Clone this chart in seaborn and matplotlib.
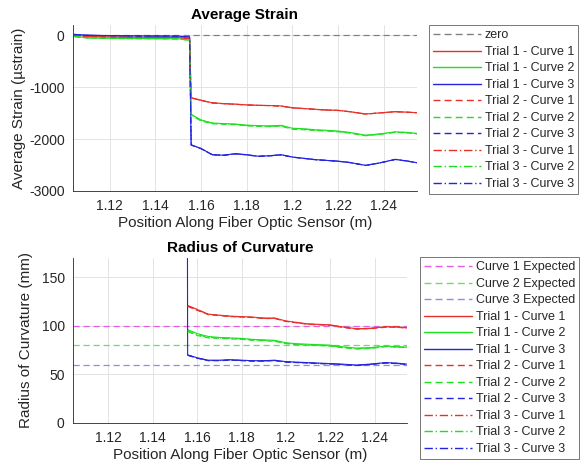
import numpy as np
import pandas as pd
import matplotlib
matplotlib.use("Agg")
import matplotlib.pyplot as plt
import seaborn as sns

sns.set_style("white")
plt.rcParams['font.family'] = ['Liberation Sans', 'DejaVu Sans']
plt.rcParams['axes.unicode_minus'] = False

# ---------------- data ----------------
x_pre = [1.1045, 1.110, 1.120, 1.130, 1.140, 1.150, 1.1550]
x_post = [1.1557, 1.160, 1.165, 1.170, 1.175, 1.180, 1.185, 1.190, 1.195, 1.200,
          1.205, 1.210, 1.215, 1.220, 1.225, 1.232, 1.238, 1.245, 1.250, 1.2545]

# Average strain (microstrain)
s_t1_c1 = [10, -20, -30, -35, -38, -40, -60,
           -1200, -1250, -1300, -1315, -1325, -1340, -1348, -1352, -1360, -1395,
           -1410, -1425, -1438, -1445, -1470, -1515, -1495, -1470, -1480, -1490]
s_t1_c2 = [-20, -45, -55, -60, -62, -65, -90,
           -1520, -1630, -1690, -1700, -1710, -1730, -1740, -1745, -1735, -1790,
           -1800, -1820, -1830, -1845, -1870, -1925, -1900, -1860, -1870, -1890]
s_t1_c3 = [20, 5, -5, -10, -12, -15, -30,
           -2110, -2180, -2300, -2310, -2280, -2300, -2330, -2320, -2300, -2345,
           -2370, -2395, -2410, -2425, -2450, -2505, -2460, -2390, -2420, -2455]
s_t2_c1 = [5, -25, -32, -36, -40, -42, -65,
           -1210, -1255, -1305, -1318, -1330, -1342, -1350, -1355, -1365, -1398,
           -1412, -1428, -1440, -1448, -1472, -1518, -1497, -1472, -1482, -1492]
s_t2_c2 = [-25, -50, -60, -64, -66, -70, -95,
           -1540, -1650, -1705, -1715, -1722, -1745, -1755, -1760, -1750, -1810,
           -1820, -1835, -1845, -1860, -1885, -1935, -1910, -1870, -1880, -1900]
s_t2_c3 = [15, 0, -8, -12, -15, -18, -35,
           -2115, -2185, -2305, -2312, -2285, -2305, -2333, -2324, -2305, -2348,
           -2373, -2398, -2412, -2428, -2452, -2508, -2462, -2393, -2423, -2458]
s_t3_c1 = [8, -22, -31, -34, -39, -41, -62,
           -1205, -1252, -1302, -1316, -1328, -1341, -1349, -1354, -1362, -1397,
           -1411, -1426, -1439, -1446, -1471, -1516, -1496, -1471, -1481, -1491]
s_t3_c2 = [-22, -48, -57, -62, -64, -68, -92,
           -1530, -1640, -1695, -1705, -1715, -1738, -1748, -1752, -1742, -1798,
           -1808, -1828, -1838, -1852, -1878, -1930, -1905, -1865, -1875, -1895]
s_t3_c3 = [18, 3, -6, -11, -13, -16, -32,
           -2112, -2182, -2302, -2311, -2282, -2302, -2331, -2322, -2302, -2346,
           -2371, -2396, -2411, -2426, -2451, -2506, -2461, -2391, -2421, -2456]

# Radius of curvature (mm)
r_t1_c1 = [121, 117, 112, 111, 110, 109.5, 109, 108, 108, 105,
           103.5, 102, 101.5, 101, 99, 97, 97.5, 99, 99, 98]
r_t1_c2 = [96, 92, 89, 88, 87.5, 87, 86, 85.5, 85, 82.5,
           81.5, 81, 80.5, 80, 78.5, 77, 77.5, 79, 78.5, 78]
r_t1_c3 = [70, 67, 64.5, 64.5, 65, 64.5, 64, 64, 64.5, 63,
           62.5, 62, 61.5, 61, 60.5, 59.5, 60.5, 62, 61.5, 60.5]
r_t2_c1 = [120, 116, 111.5, 110.5, 109.5, 109, 108.5, 107.5, 107.5, 104.5,
           103, 101.5, 101, 100.5, 98.5, 96.5, 97, 98.5, 98.5, 97.5]
r_t2_c2 = [94, 90, 87.5, 87, 86.5, 86, 85, 84.5, 84, 81.5,
           80.5, 80, 79.5, 79, 77.5, 76, 76.5, 78.5, 78, 77.5]
r_t2_c3 = [69.5, 66.5, 64, 64, 64.5, 64, 63.5, 63.5, 64, 62.5,
           62, 61.5, 61, 60.5, 60, 59, 60, 61.5, 61, 60]
r_t3_c1 = [120.5, 116.5, 112, 110.8, 109.8, 109.2, 108.8, 107.8, 107.8, 104.8,
           103.2, 101.8, 101.2, 100.8, 98.8, 96.8, 97.2, 98.8, 98.8, 97.8]
r_t3_c2 = [95, 91, 88, 87.5, 87, 86.5, 85.5, 85, 84.5, 82,
           81, 80.5, 80, 79.5, 78, 76.5, 77, 78.8, 78.2, 77.8]
r_t3_c3 = [69.8, 66.8, 64.2, 64.2, 64.8, 64.2, 63.8, 63.8, 64.2, 62.8,
           62.2, 61.8, 61.2, 60.8, 60.2, 59.2, 60.2, 61.8, 61.2, 60.2]
# blue curve radius just before the transition (far above the axis limit)
x_r_pre3 = [1.1550]
r_pre3 = [1000]

zero_level = [0, 0]
expected_radius = [100, 80, 60]
expected_labels = ["Curve 1 Expected", "Curve 2 Expected", "Curve 3 Expected"]
xlims = [1.104, 1.2545]

curve_colors = ["#e8302a", "#1ee01e", "#2323e0"]
expected_colors = ["#e65ce6", "#66e066", "#8c8cf0"]
trial_styles = ["-", (0, (5, 3)), (0, (6, 2, 1, 2))]

strain = [[s_t1_c1, s_t1_c2, s_t1_c3], [s_t2_c1, s_t2_c2, s_t2_c3], [s_t3_c1, s_t3_c2, s_t3_c3]]
radius = [[r_t1_c1, r_t1_c2, r_t1_c3], [r_t2_c1, r_t2_c2, r_t2_c3], [r_t3_c1, r_t3_c2, r_t3_c3]]

# ---------------- figure ----------------
fig = plt.figure(figsize=(5.83, 4.70), dpi=100)
ax1 = fig.add_axes([73/583, 1-191/470, (417-73)/583, (191-25)/470])
ax2 = fig.add_axes([73/583, 1-422.7/470, (406.7-73)/583, (422.7-258)/470])

text_col = "#262626"
lw = 0.8

# top: strain
sns.lineplot(x=xlims, y=zero_level, ax=ax1, color="#808080", lw=0.9,
             linestyle=(0, (5, 3)), label="zero", estimator=None, sort=False)
x_all = x_pre + x_post
for t in range(3):
    for c in range(3):
        sns.lineplot(x=x_all, y=strain[t][c], ax=ax1, color=curve_colors[c], lw=lw,
                     linestyle=trial_styles[t], label=f"Trial {t+1} - Curve {c+1}",
                     estimator=None, sort=False)
ax1.set_xlim(xlims)
ax1.set_ylim(-3000, 200)
ax1.set_yticks([-3000, -2000, -1000, 0])
ax1.set_title("Average Strain", fontsize=11, fontweight="bold", color="black", pad=4)
ax1.set_ylabel("Average Strain (\u00b5strain)", fontsize=11, color=text_col, labelpad=2)

# bottom: radius
for k in range(3):
    sns.lineplot(x=xlims, y=[expected_radius[k]] * 2, ax=ax2, color=expected_colors[k],
                 lw=0.9, linestyle=(0, (5, 3)), label=expected_labels[k],
                 estimator=None, sort=False)
for t in range(3):
    for c in range(3):
        xs = x_post
        ys = radius[t][c]
        if c == 2 and t == 0:
            xs = x_r_pre3 + x_post
            ys = r_pre3 + ys
        sns.lineplot(x=xs, y=ys, ax=ax2, color=curve_colors[c], lw=lw,
                     linestyle=trial_styles[t], label=f"Trial {t+1} - Curve {c+1}",
                     estimator=None, sort=False)
ax2.set_xlim(xlims)
ax2.set_ylim(0, 170)
ax2.set_yticks([0, 50, 100, 150])
ax2.set_title("Radius of Curvature", fontsize=11, fontweight="bold", color="black", pad=4)
ax2.set_ylabel("Radius of Curvature (mm)", fontsize=11, color=text_col, labelpad=6)

xt = [1.12, 1.14, 1.16, 1.18, 1.20, 1.22, 1.24]
xtl = ["1.12", "1.14", "1.16", "1.18", "1.2", "1.22", "1.24"]
for ax in (ax1, ax2):
    ax.set_xticks(xt)
    ax.set_xticklabels(xtl)
    ax.set_xlabel("Position Along Fiber Optic Sensor (m)", fontsize=11, color=text_col, labelpad=2)
    ax.grid(True, color="#e3e3e3", lw=0.7)
    ax.set_axisbelow(True)
    for s in ("top", "right"):
        ax.spines[s].set_visible(False)
    for s in ("left", "bottom"):
        ax.spines[s].set_color(text_col)
        ax.spines[s].set_linewidth(0.6)
    ax.tick_params(direction="in", length=3, width=0.6, colors=text_col,
                   labelsize=10, pad=6)
    ax.set_facecolor("white")

leg_kw = dict(loc="upper left", bbox_transform=fig.transFigure, fontsize=9,
              frameon=True, fancybox=False, edgecolor="#777777", framealpha=1,
              handlelength=3.8, handletextpad=0.3, labelspacing=0.36,
              borderpad=0.35, borderaxespad=0)
l1 = ax1.legend(bbox_to_anchor=(429/583, 1-25/470), **leg_kw)
l2 = ax2.legend(bbox_to_anchor=(420/583, 1-257/470), **leg_kw)
for l in (l1, l2):
    l.get_frame().set_linewidth(0.7)
    for h in l.get_lines():
        h.set_linewidth(1.0)
    for txt in l.get_texts():
        txt.set_color(text_col)

fig.savefig("out.png", dpi=100)
